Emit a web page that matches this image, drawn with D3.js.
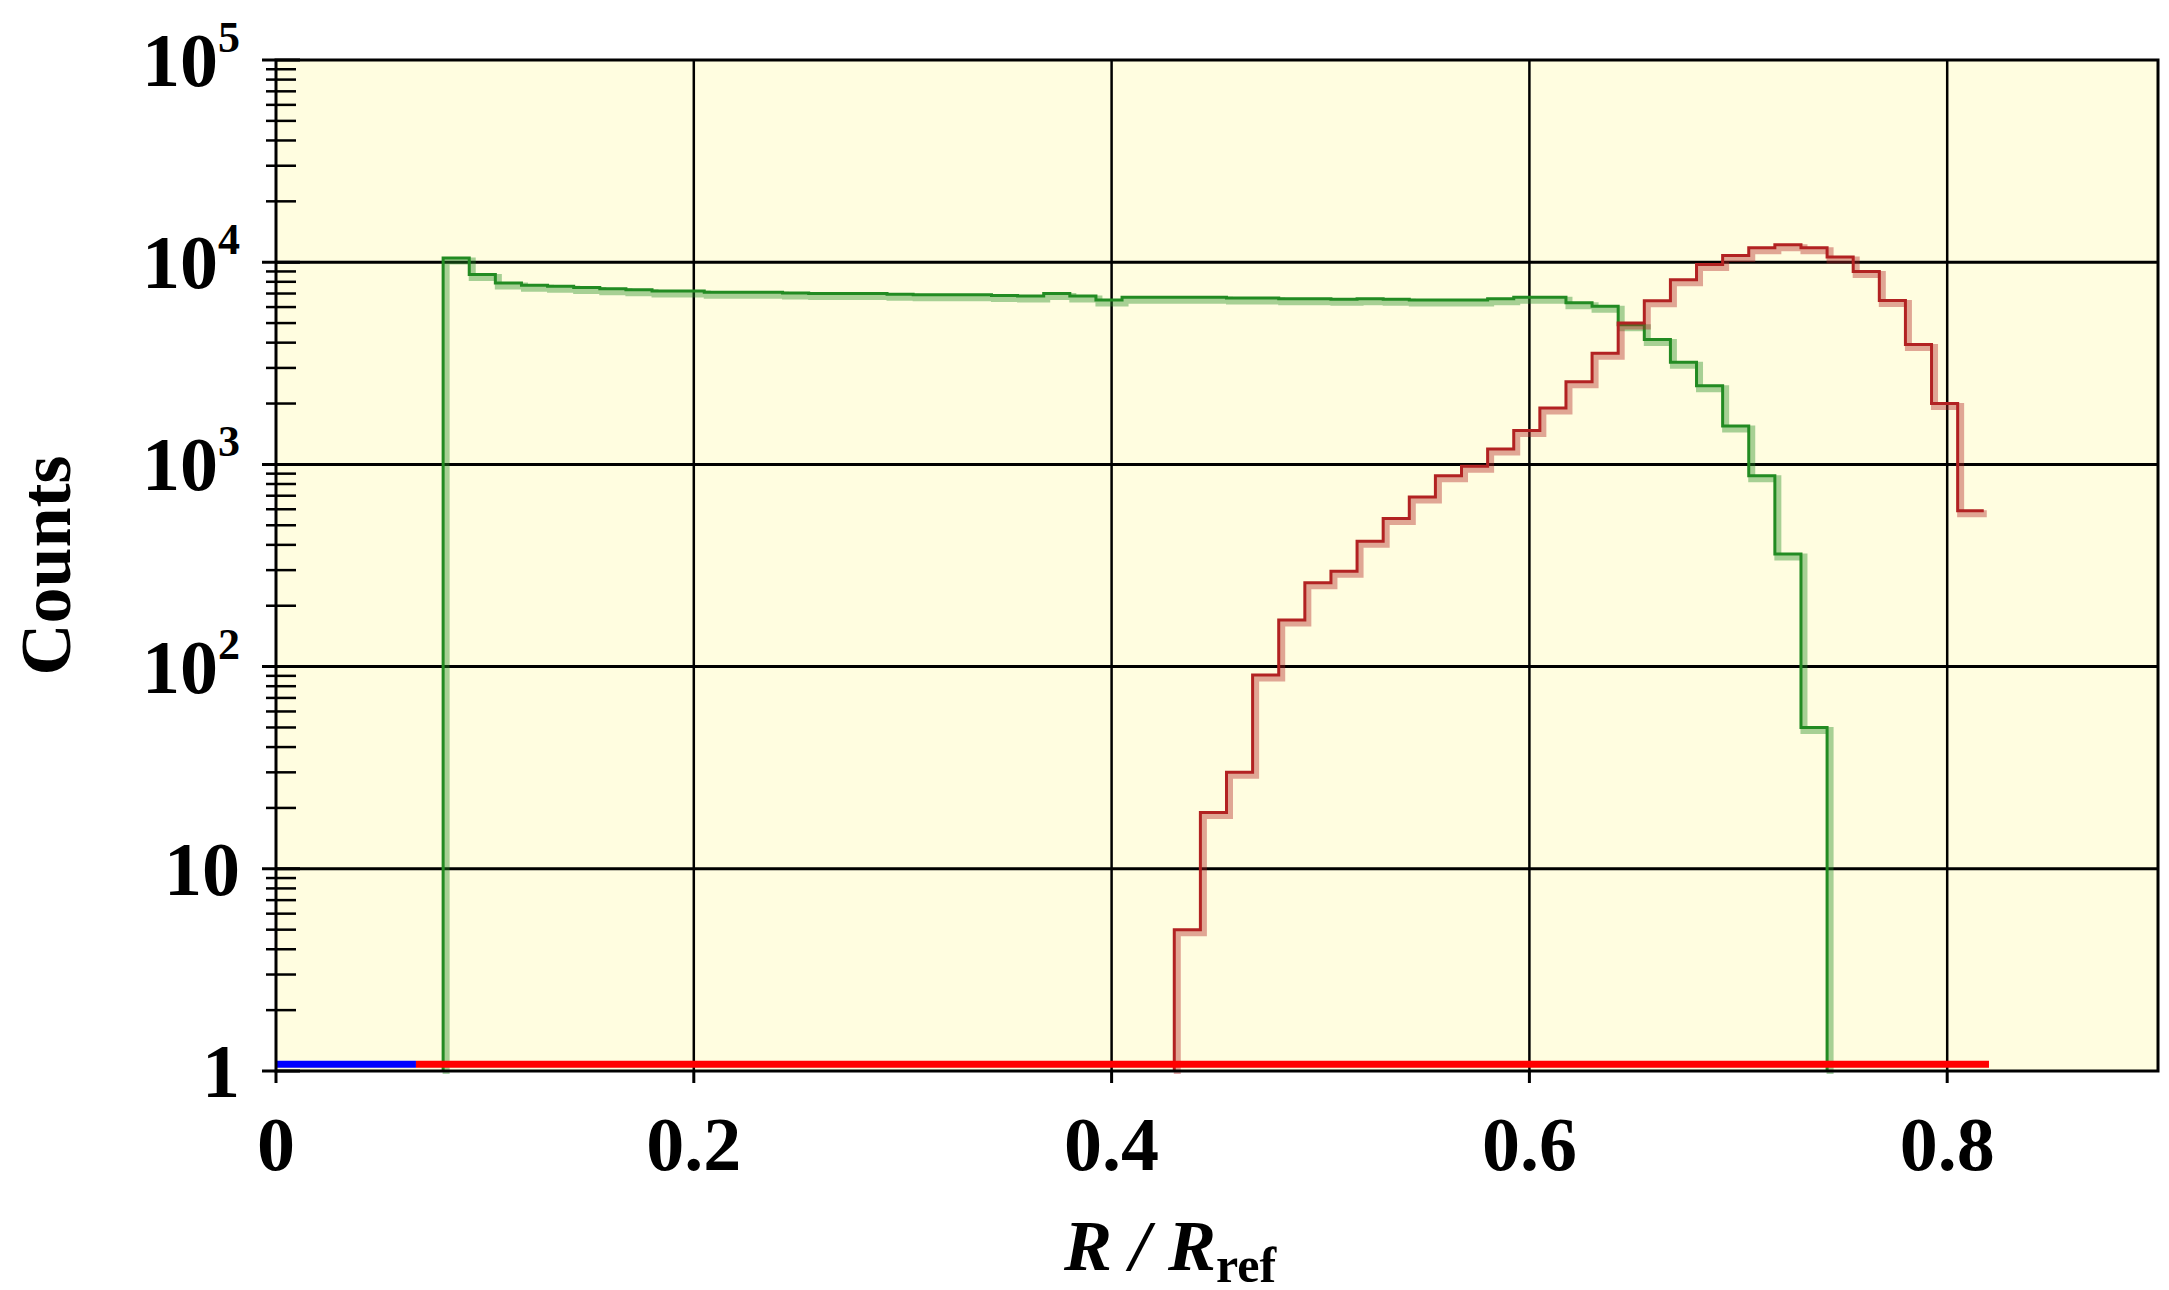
<!DOCTYPE html>
<html>
<head>
<meta charset="utf-8">
<script src="https://cdn.jsdelivr.net/npm/d3@7"></script>
<style>
  body { margin: 0; background: #fff; }
  text { font-family: "Liberation Serif", "DejaVu Serif", serif; font-weight: bold; }
</style>
</head>
<body>
<svg id="chart" width="2169" height="1290"></svg>
<script>
// histogram bins: width 0.0125, starting at 0.08
var binStart = 0.08, binWidth = 0.0125;
var greenCounts = [10500, 8700, 7900, 7700, 7600, 7500, 7400, 7300, 7200, 7200,
  7100, 7100, 7100, 7050, 7000, 7000, 7000, 6950, 6900, 6900,
  6900, 6850, 6800, 7000, 6800, 6500, 6700, 6700, 6700, 6700,
  6650, 6650, 6600, 6600, 6550, 6600, 6550, 6500, 6500, 6500,
  6600, 6700, 6700, 6300, 6050, 4900, 4150, 3200, 2450, 1550,
  880, 360, 50];
var redStartBin = 28;
var redCounts = [5, 19, 30, 91, 170, 260, 296, 417, 540, 690,
  880, 980, 1190, 1470, 1900, 2560, 3550, 5000, 6450, 8200,
  9750, 10800, 11800, 12200, 11800, 10600, 9000, 6470, 3920, 2000, 590];
var baseBlue = [0, 0.067];
var baseRed = [0.067, 0.82];
var xTicks = [0, 0.2, 0.4, 0.6, 0.8];
var yTicks = [1, 10, 100, 1000, 10000, 100000];

var svg = d3.select("#chart");
var pL = 276, pR = 2158, pT = 60, pB = 1071;
var x = d3.scaleLinear().domain([0, 0.9]).range([pL, pL + 0.9 * 2089]);
var y = d3.scaleLog().domain([1, 100000]).range([pB, pT]);

svg.append("rect").attr("x", pL).attr("y", pT)
  .attr("width", pR - pL).attr("height", pB - pT)
  .attr("fill", "#fffde0");

// grid
svg.selectAll(".gx").data(xTicks.slice(1)).enter().append("line")
  .attr("x1", d => x(d)).attr("x2", d => x(d)).attr("y1", pT).attr("y2", pB)
  .attr("stroke", "#000").attr("stroke-width", 2.5);
svg.selectAll(".gy").data(yTicks.slice(1, -1)).enter().append("line")
  .attr("x1", pL).attr("x2", pR).attr("y1", d => y(d)).attr("y2", d => y(d))
  .attr("stroke", "#000").attr("stroke-width", 3);

// minor y ticks
var minor = [];
for (var e = 0; e < 5; e++) for (var m = 2; m < 10; m++) minor.push(m * Math.pow(10, e));
svg.selectAll(".my").data(minor).enter().append("line")
  .attr("x1", pL - 10).attr("x2", pL + 20).attr("y1", d => y(d)).attr("y2", d => y(d))
  .attr("stroke", "#000").attr("stroke-width", 2.5);
svg.selectAll(".My").data(yTicks).enter().append("line")
  .attr("x1", pL - 14).attr("x2", pL + 24).attr("y1", d => y(d)).attr("y2", d => y(d))
  .attr("stroke", "#000").attr("stroke-width", 3);
svg.selectAll(".Mx").data(xTicks).enter().append("line")
  .attr("x1", d => x(d)).attr("x2", d => x(d)).attr("y1", pB).attr("y2", pB + 12)
  .attr("stroke", "#000").attr("stroke-width", 3);

function histPath(startBin, counts) {
  var pts = [[x(binStart + startBin * binWidth), y(1)]];
  counts.forEach(function(c, i) {
    var x0 = x(binStart + (startBin + i) * binWidth), x1 = x(binStart + (startBin + i + 1) * binWidth);
    pts.push([x0, y(c)], [x1, y(c)]);
  });
  return pts;
}
var line = d3.line();
function drawHist(startBin, counts, col, endDrop) {
  var pts = histPath(startBin, counts);
  if (endDrop) pts.push([pts[pts.length - 1][0], y(1)]);
  svg.append("path").attr("d", line(pts.map(p => [p[0] + 3, p[1] + 3])))
    .attr("fill", "none").attr("stroke", col).attr("stroke-opacity", 0.4).attr("stroke-width", 7);
  svg.append("path").attr("d", line(pts))
    .attr("fill", "none").attr("stroke", col).attr("stroke-width", 3);
}
drawHist(0, greenCounts, "#228b22", true);
drawHist(redStartBin, redCounts, "#b22222", false);

// baseline segments
svg.append("line").attr("x1", x(baseBlue[0])).attr("x2", x(baseBlue[1]))
  .attr("y1", y(1.08)).attr("y2", y(1.08)).attr("stroke", "#0000ff").attr("stroke-width", 7);
svg.append("line").attr("x1", x(baseRed[0])).attr("x2", x(baseRed[1]))
  .attr("y1", y(1.08)).attr("y2", y(1.08)).attr("stroke", "#ff0000").attr("stroke-width", 7);

// frame
svg.append("rect").attr("x", pL).attr("y", pT)
  .attr("width", pR - pL).attr("height", pB - pT)
  .attr("fill", "none").attr("stroke", "#000").attr("stroke-width", 3);

// x labels
svg.selectAll(".xl").data(xTicks).enter().append("text")
  .attr("x", d => x(d)).attr("y", 1170).attr("text-anchor", "middle")
  .attr("font-size", 76).text(d => d === 0 ? "0" : d3.format(".1f")(d));

// y labels
yTicks.forEach(function(v) {
  var e = Math.round(Math.log10(v));
  var t = svg.append("text").attr("x", 240).attr("y", y(v) + 26)
    .attr("text-anchor", "end").attr("font-size", 76);
  if (e === 0) t.text("1");
  else if (e === 1) t.text("10");
  else {
    t.append("tspan").text("10");
    t.append("tspan").attr("font-size", 44).attr("dy", -34).text(e);
  }
});

svg.append("text").attr("transform", "translate(70," + ((pT + pB) / 2) + ") rotate(-90)")
  .attr("text-anchor", "middle").attr("font-size", 72).text("Counts");

var xt = svg.append("text").attr("x", 1170).attr("y", 1270).attr("text-anchor", "middle")
  .attr("font-size", 72);
xt.append("tspan").attr("font-style", "italic").text("R / R");
xt.append("tspan").attr("font-size", 50).attr("dy", 12).text("ref");
</script>
</body>
</html>
